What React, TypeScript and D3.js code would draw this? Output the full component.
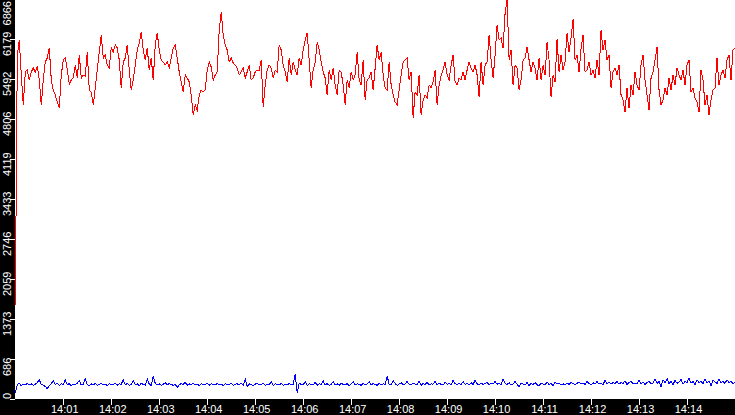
import { useEffect, useRef } from "react";
import * as d3 from "d3";

// sampled every 2.5 s from 14:00:00 to 14:15:00
const redValues = [
  1614, 5905, 6162, 5562, 5047, 5613, 5647, 5476, 5613, 5682, 5613, 5716, 5476, 5047, 5476, 5785, 5853, 6025, 5476, 5304,
  5218, 5098, 4995, 5562, 5819, 5853, 5647, 5407, 5476, 5510, 5733, 5510, 5905, 5510, 5562, 5544, 5956, 5304, 5270, 5047,
  5338, 5647, 5956, 6248, 5853, 5905, 5733, 5682, 6025, 5956, 6077, 6025, 5819, 5338, 5785, 5853, 6077, 5647, 5304, 5476,
  5733, 5991, 6111, 6300, 5991, 5819, 6025, 5647, 5853, 5476, 6077, 6283, 5991, 5819, 5785, 5733, 5785, 5682, 5853, 6025,
  6077, 5853, 5613, 5441, 5270, 5562, 5510, 5441, 5218, 4875, 5047, 4961, 5218, 5304, 5270, 5304, 5647, 5785, 5699, 5476,
  5562, 5613, 6334, 6643, 6248, 6077, 5991, 5785, 5853, 5768, 5733, 5682, 5562, 5613, 5682, 5510, 5613, 5733, 5476, 5510,
  5613, 5647, 5647, 5819, 5012, 5390, 5647, 5733, 5682, 5510, 5647, 5613, 6077, 5991, 5733, 5613, 5441, 5853, 5562, 5785,
  5647, 5562, 5853, 5733, 5991, 6162, 6283, 5819, 5338, 5647, 5785, 6128, 5991, 5785, 5613, 5510, 5218, 5647, 5476, 5682,
  5390, 5218, 5647, 5613, 5390, 5047, 5476, 5338, 5613, 5476, 5562, 5956, 5476, 5390, 5819, 5133, 5476, 5510, 5613, 5304,
  5682, 6077, 5819, 5956, 5562, 5338, 5304, 5785, 5390, 5218, 5098, 5047, 5304, 5562, 5785, 5819, 5853, 5476, 5613, 4824,
  5270, 5218, 5562, 4875, 5133, 5218, 5167, 5390, 5338, 5441, 5647, 5047, 5390, 5562, 5647, 5785, 5562, 5476, 5733, 5905,
  5441, 5390, 5510, 5476, 5613, 5476, 5647, 5785, 5682, 5613, 5733, 5562, 5184, 5785, 5390, 5733, 5785, 6248, 5819, 5510,
  5905, 6420, 6162, 6197, 6025, 6626, 6866, 5819, 5991, 5390, 5733, 5682, 5304, 5476, 5819, 5853, 6042, 5819, 5613, 5785,
  5682, 5476, 5853, 5476, 5733, 5562, 6128, 5819, 5184, 5562, 5441, 6180, 5613, 5905, 5647, 5785, 6283, 5956, 6197, 6523,
  5819, 5905, 5613, 6025, 6248, 5613, 5647, 5785, 5562, 5647, 5510, 5819, 5562, 6334, 5991, 6162, 5819, 5905, 5338, 5613,
  5682, 5562, 5733, 5218, 5133, 4927, 5338, 4995, 5390, 5218, 5613, 5390, 5304, 5733, 5905, 5476, 5218, 4961, 5510, 5613,
  5819, 6042, 5304, 5047, 5133, 5338, 5218, 5510, 5304, 5562, 5390, 5682, 5562, 5476, 5647, 5390, 5733, 5819, 5270, 5338,
  5167, 5098, 4927, 5647, 5476, 5047, 5218, 4875, 5133, 5304, 5338, 5853, 5390, 5562, 5647, 5510, 5819, 5905, 5476, 5991,
  6025,
];

const blueValues = [
  100, 250, 265, 230, 255, 240, 270, 245, 260, 235, 255, 280, 330, 250, 240, 215, 175, 230, 260, 320,
  245, 270, 235, 260, 250, 330, 240, 265, 230, 255, 245, 270, 315, 240, 255, 345, 250, 230, 260, 240,
  265, 235, 250, 275, 240, 255, 230, 265, 250, 245, 270, 235, 260, 255, 330, 240, 265, 235, 250, 320,
  245, 260, 230, 270, 250, 240, 340, 255, 230, 395, 270, 245, 260, 235, 255, 280, 240, 265, 250, 235,
  255, 200, 240, 265, 250, 290, 235, 260, 245, 270, 240, 255, 230, 265, 250, 245, 275, 235, 260, 250,
  240, 270, 245, 255, 230, 265, 250, 240, 275, 235, 255, 260, 245, 270, 240, 340, 215, 260, 245, 230,
  255, 270, 240, 250, 265, 235, 255, 245, 300, 230, 260, 250, 240, 270, 235, 255, 245, 265, 240, 255,
  430, 110, 275, 250, 240, 300, 230, 265, 250, 245, 285, 235, 260, 250, 310, 240, 265, 235, 255, 300,
  245, 260, 235, 270, 250, 240, 265, 230, 255, 295, 245, 260, 250, 235, 270, 245, 255, 300, 240, 265,
  250, 235, 270, 245, 260, 250, 395, 255, 240, 320, 265, 235, 255, 280, 245, 260, 300, 250, 240, 270,
  255, 245, 310, 235, 265, 250, 290, 240, 260, 255, 300, 245, 270, 250, 240, 290, 255, 265, 245, 320,
  260, 250, 275, 245, 300, 255, 265, 240, 280, 250, 320, 260, 245, 275, 250, 265, 290, 240, 270, 255,
  300, 255, 270, 245, 340, 265, 250, 280, 240, 260, 300, 250, 215, 275, 255, 240, 290, 230, 265, 250,
  280, 245, 225, 270, 255, 240, 290, 250, 265, 230, 285, 255, 270, 240, 260, 245, 275, 250, 290, 260,
  250, 270, 290, 255, 275, 250, 300, 265, 245, 280, 260, 300, 255, 270, 250, 320, 265, 290, 255, 280,
  270, 300, 255, 285, 265, 310, 250, 280, 300, 260, 275, 255, 320, 265, 290, 250, 280, 300, 260, 275,
  345, 270, 300, 215, 330, 280, 350, 265, 300, 245, 320, 270, 290, 340, 255, 300, 280, 360, 270, 300,
  250, 330, 285, 300, 265, 340, 280, 310, 230, 320, 295, 265, 345, 280, 300, 270, 330, 285, 300, 265,
  290,
];

const yTicks = [0, 686, 1373, 2059, 2746, 3433, 4119, 4806, 5492, 6179, 6866];
const xTickLabels = [
  "14:01", "14:02", "14:03", "14:04", "14:05", "14:06", "14:07",
  "14:08", "14:09", "14:10", "14:11", "14:12", "14:13", "14:14",
];

export default function App() {
  const width = 735;
  const height = 415;
  const left = 15.3;
  const bottom = 399;
  const svgRef = useRef<SVGSVGElement>(null);

  useEffect(() => {
    const svg = d3.select(svgRef.current);
    svg.selectAll("*").remove();

    const start = new Date(2024, 0, 1, 14, 0, 0);
    const end = new Date(2024, 0, 1, 14, 15, 0);
    const times = redValues.map((_, i) => new Date(start.getTime() + i * 2500));
    const parse = d3.timeParse("%H:%M");
    const tickTimes = xTickLabels.map((s) => {
      const p = parse(s)!;
      return new Date(2024, 0, 1, p.getHours(), p.getMinutes(), 0);
    });

    const x = d3.scaleTime().domain([start, end]).range([left, width]);
    const y = d3.scaleLinear().domain([0, 6866]).range([bottom, -1]);

    svg.append("rect").attr("width", width).attr("height", height).attr("fill", "#fff");

    // axis strips
    svg.append("rect").attr("x", 0).attr("y", 0).attr("width", 15).attr("height", height).attr("fill", "#000");
    svg.append("rect").attr("x", 0).attr("y", bottom).attr("width", width).attr("height", height - bottom).attr("fill", "#000");

    // y ticks + labels
    svg
      .append("g")
      .selectAll("line")
      .data(yTicks)
      .join("line")
      .attr("x1", 10)
      .attr("x2", 15)
      .attr("y1", (d) => Math.round(y(d)) + 0.5)
      .attr("y2", (d) => Math.round(y(d)) + 0.5)
      .attr("stroke", "#fff")
      .attr("shape-rendering", "crispEdges");

    svg
      .append("g")
      .selectAll("text")
      .data(yTicks)
      .join("text")
      .attr("transform", (d, i) => {
        let py = y(d) + 17;
        if (i === 0) py = 399;
        if (i === yTicks.length - 1) py = 1;
        return `translate(10.5, ${py}) rotate(-90)`;
      })
      .attr("text-anchor", (_, i) => (i === yTicks.length - 1 ? "end" : "start"))
      .attr("fill", "#fff")
      .style("font-family", "'Liberation Sans', Arial, sans-serif")
      .style("font-size", "11px")
      .text((d) => String(d));

    // x ticks + labels
    svg
      .append("g")
      .selectAll("line")
      .data(tickTimes)
      .join("line")
      .attr("x1", (d) => Math.round(x(d)) + 0.5)
      .attr("x2", (d) => Math.round(x(d)) + 0.5)
      .attr("y1", bottom)
      .attr("y2", bottom + 6)
      .attr("stroke", "#fff")
      .attr("shape-rendering", "crispEdges");

    svg
      .append("g")
      .selectAll("text")
      .data(tickTimes)
      .join("text")
      .attr("x", (d) => x(d) + 1.5)
      .attr("y", 413)
      .attr("text-anchor", "middle")
      .attr("fill", "#fff")
      .style("font-family", "'Liberation Sans', Arial, sans-serif")
      .style("font-size", "11px")
      .text((_, i) => xTickLabels[i]);

    // series
    const line = d3
      .line<number>()
      .x((_, i) => x(times[i]))
      .y((d) => y(d));

    svg
      .append("path")
      .datum(redValues)
      .attr("d", line)
      .attr("fill", "none")
      .attr("stroke", "#ff0000")
      .attr("stroke-width", 1)
      .attr("shape-rendering", "crispEdges");

    svg
      .append("path")
      .datum(blueValues)
      .attr("d", line)
      .attr("fill", "none")
      .attr("stroke", "#0000ff")
      .attr("stroke-width", 1)
      .attr("shape-rendering", "crispEdges");
  }, []);

  return (
    <svg
      ref={svgRef}
      width={width}
      height={height}
      style={{ position: "absolute", left: 0, top: 0, display: "block" }}
    />
  );
}
